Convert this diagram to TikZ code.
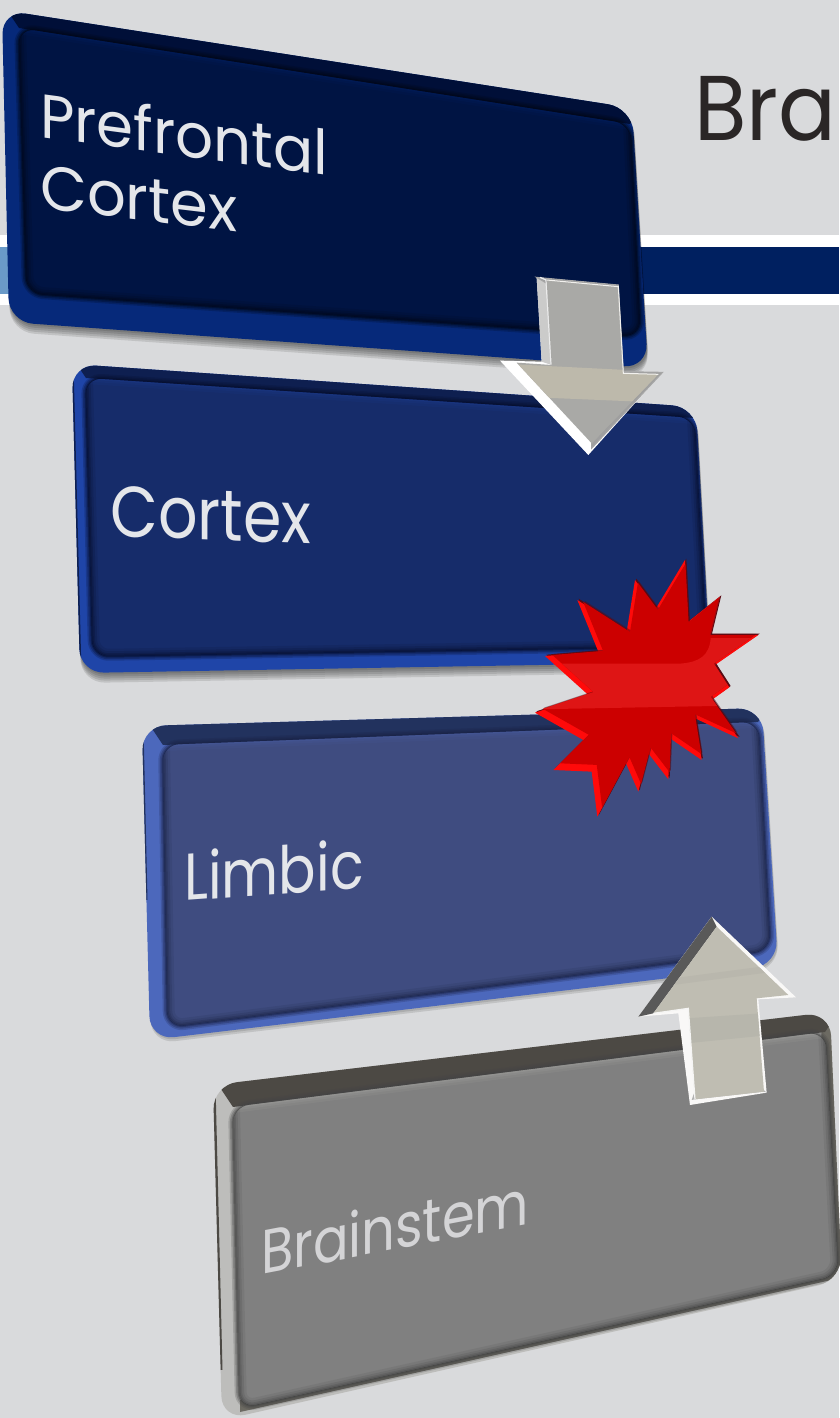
\documentclass[tikz,border=0pt]{standalone}
\usepackage{fontspec}
\usetikzlibrary{calc}
\setmainfont{Poppins}
\definecolor{bg}{HTML}{D9DADC}
\definecolor{bandblue}{HTML}{002060}
\definecolor{bandlight}{HTML}{6A9AC8}
\definecolor{titleink}{HTML}{2A2626}
\definecolor{labelink}{HTML}{E4E6EA}
\definecolor{labelgray}{HTML}{D4D4D6}
\definecolor{arrowgray}{HTML}{A9A9A6}
\definecolor{arrowtan}{HTML}{BDB9AB}
\definecolor{arrowpale}{HTML}{BFBDB2}
\definecolor{starbright}{HTML}{FF0A0A}
\definecolor{starface}{HTML}{CC0000}
\definecolor{starband}{HTML}{DE1515}
\definecolor{stardark}{HTML}{5A0A14}
\definecolor{edgeA}{HTML}{06297A}\definecolor{topA}{HTML}{000F38}\definecolor{faceA}{HTML}{001443}\definecolor{darkA}{HTML}{000818}
\definecolor{edgeB}{HTML}{1F45A8}\definecolor{topB}{HTML}{0E1F50}\definecolor{faceB}{HTML}{162C6A}\definecolor{darkB}{HTML}{060E2C}
\definecolor{edgeC}{HTML}{4C68BC}\definecolor{topC}{HTML}{22325E}\definecolor{faceC}{HTML}{3F4C80}\definecolor{darkC}{HTML}{1A2346}
\definecolor{edgeD}{HTML}{BDBDBB}\definecolor{topD}{HTML}{4C4944}\definecolor{faceD}{HTML}{808080}\definecolor{darkD}{HTML}{444444}
\definecolor{sideD}{HTML}{6C6A62}
% #1 outer path, #2-#5 face corners, #6 edge, #7 face, #8 dark halo, #9 top strip
\newcommand{\slab}[9]{%
  \begin{scope}
    \foreach \s in \slabshadow{
      \fill[black,opacity=.11,rounded corners=24pt,shift={(1,\s)}] #1 -- cycle;
    }
    \fill[#6,rounded corners=24pt] #1 -- cycle;
    \begin{scope}
      \clip[rounded corners=24pt] #1 -- cycle;
      \slabextra
      \fill[#9] (#2) -- (#3) -- ($(#3)+(40,-60)$) -- ($(#2)+(-40,-60)$) -- cycle;
      \foreach \w/\o in {10/.22,7/.3,4/.4,2/.5}{
        \draw[#8,opacity=\o,line width=\w pt,rounded corners=16pt,line join=round] (#2) -- (#3) -- (#4) -- (#5) -- cycle;
      }
    \end{scope}
    \fill[#7,rounded corners=16pt] (#2) -- (#3) -- (#4) -- (#5) -- cycle;
    \begin{scope}
      \clip[rounded corners=16pt] (#2) -- (#3) -- (#4) -- (#5) -- cycle;
      \foreach \w/\o in {14/.12,9/.18,5/.25,2/.35}{
        \draw[#8,opacity=\o,line width=\w pt,rounded corners=16pt,line join=round] (#3) -- (#4) -- (#5) -- (#2);
      }
      \foreach \w/\o in {12/.15,7/.2,3/.3}{
        \draw[#6!55!#7,opacity=\o,line width=\w pt] (#2) -- (#3);
      }
    \end{scope}
  \end{scope}}
\newcommand{\starpts}{(495,30) -- (505,215) -- (600,140) -- (572,255) -- (715,255) -- (585,345) -- (628,412) -- (575,450) -- (655,565) -- (525,505) -- (545,630) -- (450,565) -- (445,688) -- (385,610) -- (355,725) -- (318,640) -- (232,800) -- (215,665) -- (100,660) -- (190,570) -- (45,488) -- (205,435) -- (75,318) -- (235,305) -- (172,150) -- (320,245) -- (345,90) -- (408,175) -- cycle}
\newcommand{\downface}{(200,120) -- (415,140) -- (430,400) -- (535,403) -- (335,610) -- (110,368) -- (215,375) -- cycle}
\newcommand{\upface}{(290,80) -- (505,285) -- (410,295) -- (432,575) -- (225,598) -- (205,325) -- (100,340) -- cycle}
\newcommand{\lbl}[3]{\scalebox{#1}[1]{\fontsize{#2}{#2}\selectfont #3}}
\tikzset{
  labeltext/.style={text=labelink,inner sep=0pt,anchor=base west,transform shape},
}
\begin{document}
\begin{tikzpicture}[x=1pt,y=-1pt]
\useasboundingbox (0,0) rectangle (839,1418);
\fill[bg] (0,0) rectangle (839,1418);
% title rule
\fill[white] (0,235) rectangle (839,305);
\fill[bandblue] (0,247) rectangle (839,294);
\fill[bandlight] (0,247) rectangle (20,294);
\node[text=titleink,inner sep=0pt,anchor=base west] (title) at (694,140) {\lbl{.93}{92}{Bra}};

% Prefrontal slab
\def\slabshadow{10,8,6,4,2}
\def\slabextra{}
\slab{(2,10) -- (632,108) -- (648,368) -- (9,322)}{19,28}{630,124}{640,336}{27,293}{edgeA}{faceA}{darkA}{topA}
\node[labeltext,yslant=-.133] (pre) at (40,137) {\lbl{.96}{62}{Prefrontal}};
\node[labeltext,yslant=-.12] (cor1) at (40,208) {\lbl{.98}{62}{Cortex}};

% Cortex slab
\def\slabextra{\draw[topB,line width=3pt] (72,364) -- (80,673);}
\slab{(72,364) -- (696,407) -- (710,662) -- (80,673)}{86,378}{694,418}{706,646}{93,656}{edgeB}{faceB}{darkB}{topB}
\node[labeltext,yslant=-.04] (cor2) at (110,536) {\lbl{.86}{72}{Cortex}};

% Limbic slab
\def\slabshadow{4,2}
\def\slabextra{\draw[topC,line width=3pt] (142,728) -- (146,900);}
\slab{(142,726) -- (762,708) -- (778,965) -- (150,1040)}{163,745}{758,722}{770,950}{168,1027}{edgeC}{faceC}{darkC}{topC}
\node[labeltext,yslant=.073] (lim) at (184,901) {\lbl{.84}{66}{Limbic}};

% Brainstem slab
\def\slabshadow{}
\def\slabextra{\fill[sideD] (820,1000) -- (860,1000) -- (860,1300) -- (832,1300) -- cycle;
  \fill[sideD] (240,1412) -- (840,1278) -- (840,1270) -- (240,1400) -- cycle;
  \draw[topD,line width=5pt] (213,1085) -- (220,1370);}
\slab{(213,1085) -- (830,1012) -- (842,1280) -- (222,1420)}{233,1107}{825,1032}{838,1275}{240,1408}{edgeD}{faceD}{darkD}{topD}
\node[labeltext,text=labelgray,yslant=.19] (bra) at (261,1275) {\lbl{.85}{62}{Brainstem}};

% Down arrow
\begin{scope}[shift={(480,240)},x=.3333pt,y=-.3333pt]
  \fill[white] (170,112) -- (415,135) -- (430,395) -- (548,397) -- (325,645) -- (60,362) -- (185,365) -- cycle;
  \fill[arrowgray!60!white] (170,112) -- (200,120) -- (215,375) -- (185,365) -- cycle;
  \fill[gray!75,draw=gray!70,line width=1pt] (170,112) -- (415,135) -- (430,395) -- (548,397) -- (335,625) -- (335,610) -- (515,405) -- (415,395) -- (405,150) -- (200,130) -- cycle;
  \draw[white!85!gray,line width=1.2pt] (180,112) -- (198,120) -- (213,372);
  \fill[arrowgray] \downface;
  \begin{scope}
    \clip \downface;
    \fill[arrowtan] (0,368) -- (600,398) -- (600,490) -- (0,465) -- cycle;
  \end{scope}
  \draw[white!80!arrowtan,line width=1pt] (200,120) -- (415,140) -- (430,400) -- (535,403);
\end{scope}

% Collision star
\begin{scope}[shift={(520,550)},x=.3333pt,y=-.3333pt]
  \fill[stardark,shift={(4,-4)}] \starpts;
  \fill[starbright] \starpts;
  \begin{scope}[shift={(368,412)},scale=.95,shift={(-360,-420)}]
    \fill[stardark,shift={(4,-4)},opacity=.55] \starpts;
    \fill[starface] \starpts;
    \begin{scope}
      \clip \starpts;
      \fill[starband] (0,345) -- (480,345) .. controls (540,340) and (570,320) .. (575,265) -- (800,265) -- (800,475) -- (0,490) -- cycle;
    \end{scope}
  \end{scope}
\end{scope}

% Up arrow
\begin{scope}[shift={(620,900)},x=.3333pt,y=-.3333pt]
  \fill[white!90!arrowpale] (275,50) -- (528,292) -- (415,298) -- (440,578) -- (210,615) -- (175,340) -- (55,350) -- cycle;
  \fill[black!65] (275,50) -- (290,80) -- (100,340) -- (55,350) -- cycle;
  \fill[gray!60] (440,578) -- (432,575) -- (225,598) -- (215,600) -- (222,580) -- (420,560) -- cycle;
  \fill[arrowpale] \upface;
  \begin{scope}
    \clip \upface;
    \fill[arrowpale!88!gray] (200,355) -- (500,335) -- (500,400) -- (200,430) -- cycle;
    \fill[arrowpale!90!gray] (120,240) -- (500,190) -- (500,210) -- (120,260) -- cycle;
  \end{scope}
  \draw[white!85!arrowpale,line width=1.2pt] (100,340) -- (205,325) -- (225,598);
\end{scope}
\end{tikzpicture}
\end{document}
